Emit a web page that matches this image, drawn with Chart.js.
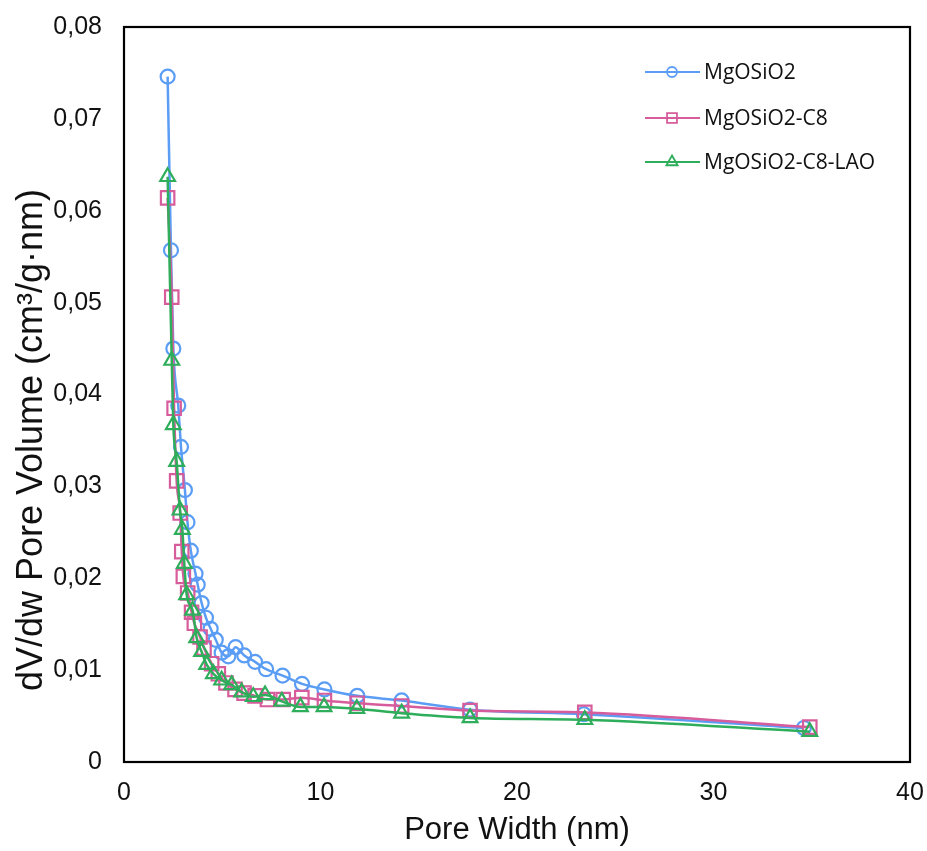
<!DOCTYPE html>
<html>
<head>
<meta charset="utf-8">
<script src="https://cdn.jsdelivr.net/npm/chart.js@4.4.1/dist/chart.umd.min.js"></script>
<style>
  html, body { margin: 0; padding: 0; background: #fff; }
  #wrap { width: 927px; height: 851px; position: relative; }
</style>
</head>
<body>
<div id="wrap"><canvas id="c" width="927" height="851"></canvas></div>
<script>
// ---- data ----
const seriesNames = ['MgOSiO2', 'MgOSiO2-C8', 'MgOSiO2-C8-LAO'];

const mgoX = [2.22, 2.39, 2.51, 2.76, 2.90, 3.10, 3.23, 3.40, 3.64, 3.75, 3.95, 4.17, 4.41, 4.67, 4.97, 5.31, 5.68, 6.12, 6.67, 7.23, 8.07, 9.06, 10.2, 11.87, 14.13, 17.61, 23.4, 34.6];
const mgoY = [0.0746, 0.0557, 0.0450, 0.0388, 0.0343, 0.0296, 0.0261, 0.0230, 0.0205, 0.0193, 0.0173, 0.0157, 0.0145, 0.0133, 0.0119, 0.0115, 0.0125, 0.0116, 0.0109, 0.0101, 0.0094, 0.0085, 0.0079, 0.0072, 0.0067, 0.0057, 0.0052, 0.0037];

const c8X = [2.22, 2.43, 2.55, 2.68, 2.86, 2.94, 3.02, 3.24, 3.44, 3.58, 3.87, 4.07, 4.46, 4.80, 5.19, 5.65, 6.11, 6.67, 7.30, 8.10, 9.05, 10.2, 11.87, 14.13, 17.61, 23.45, 34.9];
const c8Y = [0.0614, 0.0506, 0.0385, 0.0306, 0.0271, 0.0229, 0.0202, 0.0184, 0.0163, 0.0151, 0.0136, 0.0124, 0.0107, 0.0096, 0.0086, 0.0079, 0.0075, 0.0072, 0.0068, 0.0068, 0.0070, 0.0067, 0.0064, 0.0061, 0.0056, 0.0054, 0.0038];

const laoX = [2.22, 2.43, 2.51, 2.68, 2.85, 2.97, 3.07, 3.19, 3.49, 3.70, 3.95, 4.21, 4.55, 4.97, 5.48, 5.99, 6.58, 7.18, 8.03, 8.98, 10.18, 11.85, 14.13, 17.61, 23.45, 34.9];
const laoY = [0.0637, 0.0437, 0.0367, 0.0327, 0.0274, 0.0253, 0.0216, 0.0182, 0.0165, 0.0135, 0.0120, 0.0106, 0.0096, 0.0089, 0.0084, 0.0076, 0.0071, 0.0073, 0.0066, 0.0060, 0.0060, 0.0058, 0.0053, 0.0048, 0.0046, 0.0033];

const xTitle = 'Pore Width (nm)';
const yTitle = 'dV/dw Pore Volume (cm³/g·nm)';
// ---------------------------------------

function pts(xs, ys) { return xs.map((x, i) => ({ x: x, y: ys[i] })); }

const colors = ['#5B9DF5', '#D65C9B', '#2EAD5B'];
const shapes = ['circle', 'rect', 'triangle'];
const radii = [7, 9.5, 8.5];

function drawMarker(ctx, style, x, y, r) {
  ctx.beginPath();
  if (style === 'circle') {
    ctx.arc(x, y, r, 0, Math.PI * 2);
  } else if (style === 'rect') {
    const s = Math.SQRT1_2 * r;
    ctx.rect(x - s, y - s, 2 * s, 2 * s);
  } else {
    ctx.moveTo(x, y - r);
    ctx.lineTo(x + r * 0.866, y + r * 0.5);
    ctx.lineTo(x - r * 0.866, y + r * 0.5);
    ctx.closePath();
  }
  ctx.stroke();
}

const frameAndExtras = {
  id: 'frameAndExtras',
  beforeDatasetsDraw(chart) {
    const { ctx, chartArea: a } = chart;
    ctx.save();
    ctx.strokeStyle = '#000';
    ctx.lineWidth = 2.2;
    ctx.strokeRect(a.left, a.top, a.right - a.left, a.bottom - a.top);
    ctx.restore();
  },
  afterDraw(chart) {
    const ctx = chart.ctx;
    ctx.save();
    // y-axis title
    ctx.translate(32, 440);
    ctx.rotate(-Math.PI / 2);
    ctx.fillStyle = '#111';
    ctx.font = '36px "Liberation Sans", Arial, sans-serif';
    ctx.textAlign = 'center';
    ctx.textBaseline = 'middle';
    ctx.fillText(yTitle, 0, 0);
    ctx.restore();

    // legend
    const rows = [72, 118, 162];
    ctx.save();
    chart.data.datasets.forEach((ds, i) => {
      const y = rows[i];
      ctx.strokeStyle = ds.borderColor;
      ctx.lineWidth = 2.2;
      ctx.beginPath();
      ctx.moveTo(645, y);
      ctx.lineTo(700, y);
      ctx.stroke();
      ctx.lineWidth = 1.8;
      const lr = ds.pointStyle === 'rect' ? 7 : (ds.pointStyle === 'triangle' ? 6.5 : 5);
      drawMarker(ctx, ds.pointStyle, 672, y, lr);
      ctx.fillStyle = '#111';
      ctx.font = '21px "Open Sans", Lato, sans-serif';
      ctx.textAlign = 'left';
      ctx.textBaseline = 'middle';
      ctx.fillText(ds.label, 704, y + 1);
    });
    ctx.restore();
  }
};

const datasets = [
  { label: seriesNames[0], data: pts(mgoX, mgoY), order: 2 },
  { label: seriesNames[1], data: pts(c8X, c8Y), order: 1 },
  { label: seriesNames[2], data: pts(laoX, laoY), order: 0 }
].map((d, i) => Object.assign(d, {
  borderColor: colors[i],
  backgroundColor: 'rgba(0,0,0,0)',
  pointBorderColor: colors[i],
  pointBackgroundColor: 'rgba(0,0,0,0)',
  pointStyle: shapes[i],
  pointRadius: radii[i],
  pointBorderWidth: 2.2,
  borderWidth: 2.5,
  showLine: true,
  cubicInterpolationMode: 'monotone',
  fill: false
}));

new Chart(document.getElementById('c'), {
  type: 'scatter',
  data: { datasets: datasets },
  options: {
    responsive: false,
    animation: false,
    devicePixelRatio: 1,
    layout: { padding: { top: 27, right: 17, bottom: 0, left: 0 } },
    plugins: { legend: { display: false }, tooltip: { enabled: false } },
    scales: {
      x: {
        type: 'linear',
        min: 0, max: 40,
        ticks: {
          stepSize: 10,
          padding: 16,
          color: '#111',
          font: { family: '"Liberation Sans", Arial, sans-serif', size: 25 }
        },
        grid: { display: false, drawTicks: false },
        border: { display: false },
        title: {
          display: true,
          text: xTitle,
          color: '#111',
          padding: { top: 0, bottom: 2 },
          font: { family: '"Liberation Sans", Arial, sans-serif', size: 31 }
        },
        afterFit(scale) { scale.height = 89; scale.paddingLeft = 0; scale.paddingRight = 0; }
      },
      y: {
        type: 'linear',
        min: 0, max: 0.08,
        ticks: {
          stepSize: 0.01,
          padding: 22,
          color: '#111',
          font: { family: '"Liberation Sans", Arial, sans-serif', size: 25 },
          callback: (v) => (Math.abs(v) < 1e-9 ? '0' : v.toFixed(2).replace('.', ','))
        },
        grid: { display: false, drawTicks: false },
        border: { display: false },
        afterFit(scale) { scale.width = 124; scale.paddingTop = 0; scale.paddingBottom = 0; }
      }
    }
  },
  plugins: [frameAndExtras]
});
</script>
</body>
</html>
